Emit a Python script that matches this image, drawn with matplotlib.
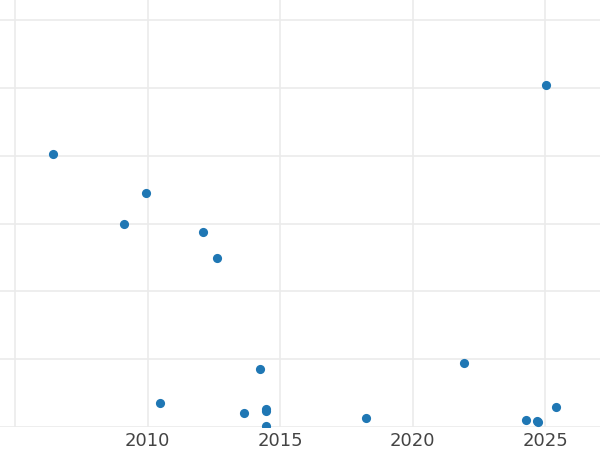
import matplotlib
matplotlib.use("Agg")
import matplotlib.pyplot as plt

# data (y has no labels, gridline step = 1)
years = [2006.43, 2009.93, 2009.11, 2012.09, 2012.61, 2025.04, 2014.24,
         2010.46, 2013.62, 2014.45, 2014.46, 2014.47, 2018.23, 2021.92,
         2024.28, 2024.68, 2024.74, 2025.40]
values = [4.03, 3.45, 2.99, 2.87, 2.50, 5.04, 0.85,
          0.35, 0.20, 0.26, 0.23, 0.02, 0.14, 0.94,
          0.10, 0.09, 0.08, 0.30]
x_ticks = [2005, 2010, 2015, 2020, 2025]
x_labels = ["", "2010", "2015", "2020", "2025"]
y_ticks = [0, 1, 2, 3, 4, 5, 6]

fig = plt.figure(figsize=(6, 4.5), dpi=100)
ax = fig.add_axes([0, 0.0511, 1, 0.9489])

ax.plot(years, values, 'o', color='#1f77b4', markersize=6.6,
        markeredgewidth=0, zorder=3)

ax.set_xlim(2004.43, 2027.07)
ax.set_ylim(0, 6.30)
ax.set_xticks(x_ticks)
ax.set_xticklabels(x_labels)
ax.set_yticks(y_ticks)
ax.set_yticklabels([])

ax.grid(True, color='#ebebeb', linewidth=1.2)
ax.set_axisbelow(True)
for s in ax.spines.values():
    s.set_visible(False)
ax.tick_params(axis='both', length=0)
ax.tick_params(axis='x', labelsize=13, labelcolor='#444444', pad=3.5)

fig.savefig("out.png", dpi=100)
